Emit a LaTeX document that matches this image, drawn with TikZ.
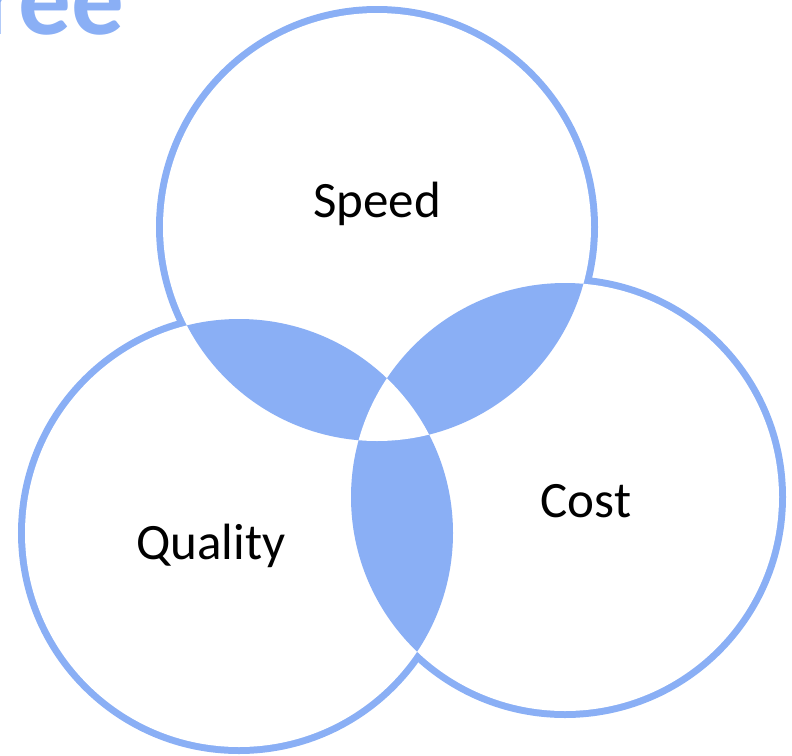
\documentclass[tikz,border=0pt]{standalone}
\usepackage{fontspec}
\setmainfont{Carlito}
\usepackage{tikz}
\usetikzlibrary{positioning}

\definecolor{vennblue}{RGB}{138,175,245}

% the three sets
\newcommand{\speedcircle}{(377,227) circle[radius=214pt]}
\newcommand{\qualitycircle}{(239,533) circle[radius=214pt]}
\newcommand{\costcircle}{(565,497) circle[radius=214pt]}

\tikzset{
  ring/.style={draw=vennblue, line width=14pt},
  setname/.style={font=\fontsize{51}{60}\selectfont, anchor=base},
}

\begin{document}
\begin{tikzpicture}[x=1pt,y=-1pt]
  \useasboundingbox (0,0) rectangle (792,755);
  \clip (0,0) rectangle (792,755);
  % heading, cut at the edge
  \node[anchor=base east, text=vennblue, font=\bfseries\fontsize{105}{120}\selectfont] (heading) at (128,34) {ree};
  % outlines, then blank the insides so only the outer half of each ring shows
  \draw[ring] \speedcircle;
  \draw[ring] \qualitycircle;
  \draw[ring] \costcircle;
  \fill[white] \speedcircle;
  \fill[white] \qualitycircle;
  \fill[white] \costcircle;
  % pairwise overlaps
  \begin{scope}
    \clip \speedcircle;
    \fill[vennblue] \qualitycircle;
    \fill[vennblue] \costcircle;
  \end{scope}
  \begin{scope}
    \clip \qualitycircle;
    \fill[vennblue] \costcircle;
  \end{scope}
  % all three together stays empty
  \begin{scope}
    \clip \speedcircle;
    \clip \qualitycircle;
    \fill[white] \costcircle;
  \end{scope}
  \node[setname] (speed) at (377,217) {Speed};
  \node[setname] (quality) at (211,559) {Quality};
  \node[setname] (cost) at (586,517) {Cost};
\end{tikzpicture}
\end{document}
